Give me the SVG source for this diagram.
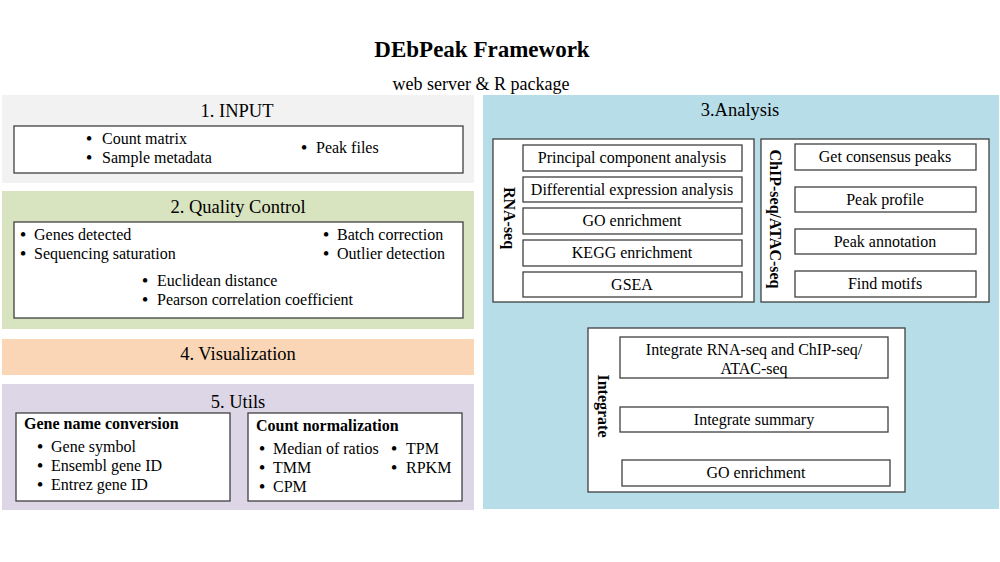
<svg xmlns="http://www.w3.org/2000/svg" width="1000" height="562" viewBox="0 0 1000 562">
<style>
text{font-family:"Liberation Serif","Times New Roman",serif;fill:#000}
.t{font-size:16px}
.d{font-size:19px;text-anchor:middle}
.h{font-size:18.5px;text-anchor:middle}
.c{font-size:16px;text-anchor:middle}
.b{font-weight:bold}
.box{fill:#fff;stroke:#404040;stroke-width:1.3}
</style>
<rect width="1000" height="562" fill="#fff"/>
<g id="title">
<text x="482" y="57" font-size="23" font-weight="bold" text-anchor="middle">DEbPeak Framework</text>
<text x="481" y="90" font-size="18" text-anchor="middle">web server &amp; R package</text>
</g>
<g id="input">
<rect x="2" y="95" width="472" height="88" fill="#f2f2f2"/>
<text class="h" x="237" y="117">1. INPUT</text>
<rect class="box" x="14" y="126" width="449" height="47"/>
<text class="d" x="89" y="145">•</text><text class="t" x="102" y="144">Count matrix</text>
<text class="d" x="89" y="164">•</text><text class="t" x="102" y="163">Sample metadata</text>
<text class="d" x="304" y="154">•</text><text class="t" x="316" y="153">Peak files</text>
</g>
<g id="qc">
<rect x="2" y="191" width="472" height="138" fill="#d8e4bf"/>
<text class="h" x="238" y="213">2. Quality Control</text>
<rect class="box" x="14" y="222" width="449" height="96"/>
<text class="d" x="23" y="241">•</text><text class="t" x="34" y="240">Genes detected</text>
<text class="d" x="23" y="260">•</text><text class="t" x="34" y="259">Sequencing saturation</text>
<text class="d" x="326" y="241">•</text><text class="t" x="337" y="240">Batch correction</text>
<text class="d" x="326" y="260">•</text><text class="t" x="337" y="259">Outlier detection</text>
<text class="d" x="145" y="287">•</text><text class="t" x="157" y="286">Euclidean distance</text>
<text class="d" x="145" y="306">•</text><text class="t" x="157" y="305">Pearson correlation coefficient</text>
</g>
<g id="visualization">
<rect x="2" y="339" width="472" height="36" fill="#fbd6b6"/>
<text class="h" x="238" y="360">4. Visualization</text>
</g>
<g id="utils">
<rect x="2" y="384" width="472" height="126" fill="#dcd6e6"/>
<text class="h" x="238" y="408">5. Utils</text>
<rect class="box" x="16" y="413" width="214" height="88"/>
<text class="t b" x="24" y="429">Gene name conversion</text>
<text class="d" x="40" y="453">•</text><text class="t" x="51" y="452">Gene symbol</text>
<text class="d" x="40" y="472">•</text><text class="t" x="51" y="471">Ensembl gene ID</text>
<text class="d" x="40" y="491">•</text><text class="t" x="51" y="490">Entrez gene ID</text>
<rect class="box" x="248" y="413" width="214" height="88"/>
<text class="t b" x="256" y="431">Count normalization</text>
<text class="d" x="262" y="455">•</text><text class="t" x="273" y="454">Median of ratios</text>
<text class="d" x="262" y="474">•</text><text class="t" x="273" y="473">TMM</text>
<text class="d" x="262" y="493">•</text><text class="t" x="273" y="492">CPM</text>
<text class="d" x="394" y="455">•</text><text class="t" x="406" y="454">TPM</text>
<text class="d" x="394" y="474">•</text><text class="t" x="406" y="473">RPKM</text>
</g>
<g id="analysis">
<rect x="483" y="95" width="516" height="414" fill="#b7dde8"/>
<text class="h" x="740" y="116">3.Analysis</text>
</g>
<g id="rnaseq">
<rect class="box" x="493" y="139" width="261" height="163"/>
<text class="t b" transform="translate(504,218) rotate(90)" text-anchor="middle">RNA-seq</text>
<rect class="box" x="523" y="145" width="219" height="26"/>
<text class="c" x="632" y="163">Principal component analysis</text>
<rect class="box" x="523" y="177" width="219" height="25"/>
<text class="c" x="632" y="195">Differential expression analysis</text>
<rect class="box" x="523" y="208" width="219" height="26"/>
<text class="c" x="632" y="226">GO enrichment</text>
<rect class="box" x="523" y="240" width="219" height="26"/>
<text class="c" x="632" y="258">KEGG enrichment</text>
<rect class="box" x="523" y="272" width="219" height="25"/>
<text class="c" x="632" y="290">GSEA</text>
</g>
<g id="chipseq">
<rect class="box" x="761" y="139" width="228" height="163"/>
<text class="t b" transform="translate(770,219) rotate(90)" text-anchor="middle">ChIP-seq/ATAC-seq</text>
<rect class="box" x="795" y="144" width="181" height="26"/>
<text class="c" x="885" y="162">Get consensus peaks</text>
<rect class="box" x="795" y="187" width="181" height="25"/>
<text class="c" x="885" y="205">Peak profile</text>
<rect class="box" x="795" y="229" width="181" height="25"/>
<text class="c" x="885" y="247">Peak annotation</text>
<rect class="box" x="795" y="271" width="181" height="26"/>
<text class="c" x="885" y="289">Find motifs</text>
</g>
<g id="integrate">
<rect class="box" x="588" y="328" width="317" height="164"/>
<text class="t b" transform="translate(598,406) rotate(90)" text-anchor="middle">Integrate</text>
<rect class="box" x="620" y="337" width="268" height="41"/>
<text class="c" x="754" y="355">Integrate RNA-seq and ChIP-seq/</text>
<text class="c" x="754" y="374">ATAC-seq</text>
<rect class="box" x="620" y="407" width="268" height="25"/>
<text class="c" x="754" y="425">Integrate summary</text>
<rect class="box" x="622" y="460" width="268" height="26"/>
<text class="c" x="756" y="478">GO enrichment</text>
</g>
<g id="connectors"></g>
</svg>
